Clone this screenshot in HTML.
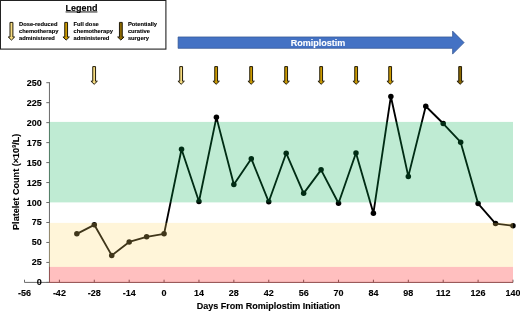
<!DOCTYPE html><html><head><meta charset="utf-8"><title>Romiplostim platelet chart</title><style>html,body{margin:0;padding:0;background:#fff}svg{display:block}text{font-family:"Liberation Sans",Arial,sans-serif;font-weight:bold;fill:#000;stroke:#000;stroke-width:0.12px}</style></head><body>
<svg width="520" height="311" viewBox="0 0 520 311">
<rect width="520" height="311" fill="#fff"/>
<path d="M49.45 82.20V282.90" stroke="#6a6a6a" stroke-width="1" fill="none"/>
<path d="M24.5 282.40H513" stroke="#6a6a6a" stroke-width="1" fill="none"/>
<path d="M46.3 282.40H49.5" stroke="#6a6a6a" stroke-width="1"/>
<text x="41.7" y="285.40" font-size="9" text-anchor="end">0</text>
<path d="M46.3 262.43H49.5" stroke="#6a6a6a" stroke-width="1"/>
<text x="41.7" y="265.43" font-size="9" text-anchor="end">25</text>
<path d="M46.3 242.46H49.5" stroke="#6a6a6a" stroke-width="1"/>
<text x="41.7" y="245.46" font-size="9" text-anchor="end">50</text>
<path d="M46.3 222.49H49.5" stroke="#6a6a6a" stroke-width="1"/>
<text x="41.7" y="225.49" font-size="9" text-anchor="end">75</text>
<path d="M46.3 202.52H49.5" stroke="#6a6a6a" stroke-width="1"/>
<text x="41.7" y="205.52" font-size="9" text-anchor="end">100</text>
<path d="M46.3 182.55H49.5" stroke="#6a6a6a" stroke-width="1"/>
<text x="41.7" y="185.55" font-size="9" text-anchor="end">125</text>
<path d="M46.3 162.58H49.5" stroke="#6a6a6a" stroke-width="1"/>
<text x="41.7" y="165.58" font-size="9" text-anchor="end">150</text>
<path d="M46.3 142.61H49.5" stroke="#6a6a6a" stroke-width="1"/>
<text x="41.7" y="145.61" font-size="9" text-anchor="end">175</text>
<path d="M46.3 122.64H49.5" stroke="#6a6a6a" stroke-width="1"/>
<text x="41.7" y="125.64" font-size="9" text-anchor="end">200</text>
<path d="M46.3 102.67H49.5" stroke="#6a6a6a" stroke-width="1"/>
<text x="41.7" y="105.67" font-size="9" text-anchor="end">225</text>
<path d="M46.3 82.70H49.5" stroke="#6a6a6a" stroke-width="1"/>
<text x="41.7" y="85.70" font-size="9" text-anchor="end">250</text>
<path d="M24.50 282.40v-2.7" stroke="#6a6a6a" stroke-width="1"/>
<path d="M59.39 282.40v-2.7" stroke="#6a6a6a" stroke-width="1"/>
<path d="M94.29 282.40v-2.7" stroke="#6a6a6a" stroke-width="1"/>
<path d="M129.18 282.40v-2.7" stroke="#6a6a6a" stroke-width="1"/>
<path d="M164.07 282.40v-2.7" stroke="#6a6a6a" stroke-width="1"/>
<path d="M198.96 282.40v-2.7" stroke="#6a6a6a" stroke-width="1"/>
<path d="M233.85 282.40v-2.7" stroke="#6a6a6a" stroke-width="1"/>
<path d="M268.75 282.40v-2.7" stroke="#6a6a6a" stroke-width="1"/>
<path d="M303.64 282.40v-2.7" stroke="#6a6a6a" stroke-width="1"/>
<path d="M338.53 282.40v-2.7" stroke="#6a6a6a" stroke-width="1"/>
<path d="M373.42 282.40v-2.7" stroke="#6a6a6a" stroke-width="1"/>
<path d="M408.32 282.40v-2.7" stroke="#6a6a6a" stroke-width="1"/>
<path d="M443.21 282.40v-2.7" stroke="#6a6a6a" stroke-width="1"/>
<path d="M478.10 282.40v-2.7" stroke="#6a6a6a" stroke-width="1"/>
<path d="M512.99 282.40v-2.7" stroke="#6a6a6a" stroke-width="1"/>
<path d="M76.84 233.83 L94.29 224.81 L111.73 255.40 L129.18 241.98 L146.62 236.87 L164.07 233.83 L181.52 149.24 L198.96 201.48 L216.41 117.37 L233.85 184.55 L251.30 158.67 L268.75 201.80 L286.19 153.23 L303.64 193.33 L321.08 169.85 L338.53 203.24 L355.98 152.99 L373.42 213.14 L390.87 96.44 L408.32 176.40 L425.76 106.26 L443.21 123.52 L460.65 142.21 L478.10 203.56 L495.55 223.61 L512.99 225.77" fill="none" stroke="#000" stroke-width="1.85" stroke-linejoin="round" stroke-linecap="round"/>
<circle cx="76.84" cy="233.83" r="2.75" fill="#000"/>
<circle cx="94.29" cy="224.81" r="2.75" fill="#000"/>
<circle cx="111.73" cy="255.40" r="2.75" fill="#000"/>
<circle cx="129.18" cy="241.98" r="2.75" fill="#000"/>
<circle cx="146.62" cy="236.87" r="2.75" fill="#000"/>
<circle cx="164.07" cy="233.83" r="2.75" fill="#000"/>
<circle cx="181.52" cy="149.24" r="2.75" fill="#000"/>
<circle cx="198.96" cy="201.48" r="2.75" fill="#000"/>
<circle cx="216.41" cy="117.37" r="2.75" fill="#000"/>
<circle cx="233.85" cy="184.55" r="2.75" fill="#000"/>
<circle cx="251.30" cy="158.67" r="2.75" fill="#000"/>
<circle cx="268.75" cy="201.80" r="2.75" fill="#000"/>
<circle cx="286.19" cy="153.23" r="2.75" fill="#000"/>
<circle cx="303.64" cy="193.33" r="2.75" fill="#000"/>
<circle cx="321.08" cy="169.85" r="2.75" fill="#000"/>
<circle cx="338.53" cy="203.24" r="2.75" fill="#000"/>
<circle cx="355.98" cy="152.99" r="2.75" fill="#000"/>
<circle cx="373.42" cy="213.14" r="2.75" fill="#000"/>
<circle cx="390.87" cy="96.44" r="2.75" fill="#000"/>
<circle cx="408.32" cy="176.40" r="2.75" fill="#000"/>
<circle cx="425.76" cy="106.26" r="2.75" fill="#000"/>
<circle cx="443.21" cy="123.52" r="2.75" fill="#000"/>
<circle cx="460.65" cy="142.21" r="2.75" fill="#000"/>
<circle cx="478.10" cy="203.56" r="2.75" fill="#000"/>
<circle cx="495.55" cy="223.61" r="2.75" fill="#000"/>
<circle cx="512.99" cy="225.77" r="2.75" fill="#000"/>
<rect x="49.0" y="121.9" width="464.0" height="80.5" fill="rgb(0,176,80)" fill-opacity="0.25"/>
<rect x="49.0" y="222.9" width="464.0" height="44" fill="rgb(255,217,102)" fill-opacity="0.25"/>
<rect x="49.0" y="266.9" width="464.0" height="16.1" fill="rgb(255,0,0)" fill-opacity="0.25"/>
<text x="24.50" y="296.2" font-size="9" text-anchor="middle">-56</text>
<text x="59.39" y="296.2" font-size="9" text-anchor="middle">-42</text>
<text x="94.29" y="296.2" font-size="9" text-anchor="middle">-28</text>
<text x="129.18" y="296.2" font-size="9" text-anchor="middle">-14</text>
<text x="164.07" y="296.2" font-size="9" text-anchor="middle">0</text>
<text x="198.96" y="296.2" font-size="9" text-anchor="middle">14</text>
<text x="233.85" y="296.2" font-size="9" text-anchor="middle">28</text>
<text x="268.75" y="296.2" font-size="9" text-anchor="middle">42</text>
<text x="303.64" y="296.2" font-size="9" text-anchor="middle">56</text>
<text x="338.53" y="296.2" font-size="9" text-anchor="middle">70</text>
<text x="373.42" y="296.2" font-size="9" text-anchor="middle">84</text>
<text x="408.32" y="296.2" font-size="9" text-anchor="middle">98</text>
<text x="443.21" y="296.2" font-size="9" text-anchor="middle">112</text>
<text x="478.10" y="296.2" font-size="9" text-anchor="middle">126</text>
<text x="512.99" y="296.2" font-size="9" text-anchor="middle">140</text>
<text x="268.4" y="308.6" font-size="9" text-anchor="middle">Days From Romiplostim Initiation</text>
<text transform="translate(19 181.8) rotate(-90)" font-size="9.1" text-anchor="middle">Platelet Count (×10<tspan font-size="5.5" dy="-3">9</tspan><tspan dy="3">/L)</tspan></text>
<path d="M92.75 66.60H95.55V81.20H97.35L94.15 84.30L90.95 81.20H92.75Z" fill="#F7DC80" stroke="#221c0a" stroke-width="1.0" stroke-linejoin="miter"/>
<path d="M179.75 66.60H182.55V81.20H184.35L181.15 84.30L177.95 81.20H179.75Z" fill="#F7DC80" stroke="#221c0a" stroke-width="1.0" stroke-linejoin="miter"/>
<path d="M214.75 66.60H217.55V81.20H219.35L216.15 84.30L212.95 81.20H214.75Z" fill="#CC9A00" stroke="#221c0a" stroke-width="1.0" stroke-linejoin="miter"/>
<path d="M249.75 66.60H252.55V81.20H254.35L251.15 84.30L247.95 81.20H249.75Z" fill="#CC9A00" stroke="#221c0a" stroke-width="1.0" stroke-linejoin="miter"/>
<path d="M284.75 66.60H287.55V81.20H289.35L286.15 84.30L282.95 81.20H284.75Z" fill="#CC9A00" stroke="#221c0a" stroke-width="1.0" stroke-linejoin="miter"/>
<path d="M319.75 66.60H322.55V81.20H324.35L321.15 84.30L317.95 81.20H319.75Z" fill="#CC9A00" stroke="#221c0a" stroke-width="1.0" stroke-linejoin="miter"/>
<path d="M354.75 66.60H357.55V81.20H359.35L356.15 84.30L352.95 81.20H354.75Z" fill="#CC9A00" stroke="#221c0a" stroke-width="1.0" stroke-linejoin="miter"/>
<path d="M388.75 66.60H391.55V81.20H393.35L390.15 84.30L386.95 81.20H388.75Z" fill="#CC9A00" stroke="#221c0a" stroke-width="1.0" stroke-linejoin="miter"/>
<path d="M458.75 66.60H461.55V81.20H463.35L460.15 84.30L456.95 81.20H458.75Z" fill="#8C6800" stroke="#221c0a" stroke-width="1.0" stroke-linejoin="miter"/>
<path d="M178.1 36.95H452.6V31.1L464.1 42.6L452.6 54.1V48.35H178.1Z" fill="#4472C4" stroke="#2F528F" stroke-width="0.7"/>
<text x="318.1" y="46.2" font-size="9" text-anchor="middle" style="fill:#fff;stroke:#fff">Romiplostim</text>
<rect x="0.45" y="0.45" width="165.45" height="48.65" fill="#fff" stroke="#222" stroke-width="1.1"/>
<text x="81.5" y="10.5" font-size="9" text-anchor="middle">Legend</text>
<path d="M65.6 11.95H97.4" stroke="#000" stroke-width="0.9"/>
<path d="M10.00 22.40H12.90V37.00H14.65L11.45 40.10L8.25 37.00H10.00Z" fill="#F7DC80" stroke="#221c0a" stroke-width="1.0" stroke-linejoin="miter"/>
<path d="M64.75 22.40H67.55V37.00H69.35L66.15 40.10L62.95 37.00H64.75Z" fill="#CC9A00" stroke="#221c0a" stroke-width="1.0" stroke-linejoin="miter"/>
<path d="M119.45 22.40H122.25V37.00H124.05L120.85 40.10L117.65 37.00H119.45Z" fill="#8C6800" stroke="#221c0a" stroke-width="1.0" stroke-linejoin="miter"/>
<text x="19" y="25.75" font-size="5.77" stroke="#000" stroke-width="0.15">Dose-reduced</text>
<text x="19" y="32.87" font-size="5.77" stroke="#000" stroke-width="0.15">chemotherapy</text>
<text x="19" y="39.99" font-size="5.77" stroke="#000" stroke-width="0.15">administered</text>
<text x="73.5" y="25.75" font-size="5.77" stroke="#000" stroke-width="0.15">Full dose</text>
<text x="73.5" y="32.87" font-size="5.77" stroke="#000" stroke-width="0.15">chemotherapy</text>
<text x="73.5" y="39.99" font-size="5.77" stroke="#000" stroke-width="0.15">administered</text>
<text x="127.9" y="25.75" font-size="5.77" stroke="#000" stroke-width="0.15">Potentially</text>
<text x="127.9" y="32.87" font-size="5.77" stroke="#000" stroke-width="0.15">curative</text>
<text x="127.9" y="39.99" font-size="5.77" stroke="#000" stroke-width="0.15">surgery</text>
</svg></body></html>
